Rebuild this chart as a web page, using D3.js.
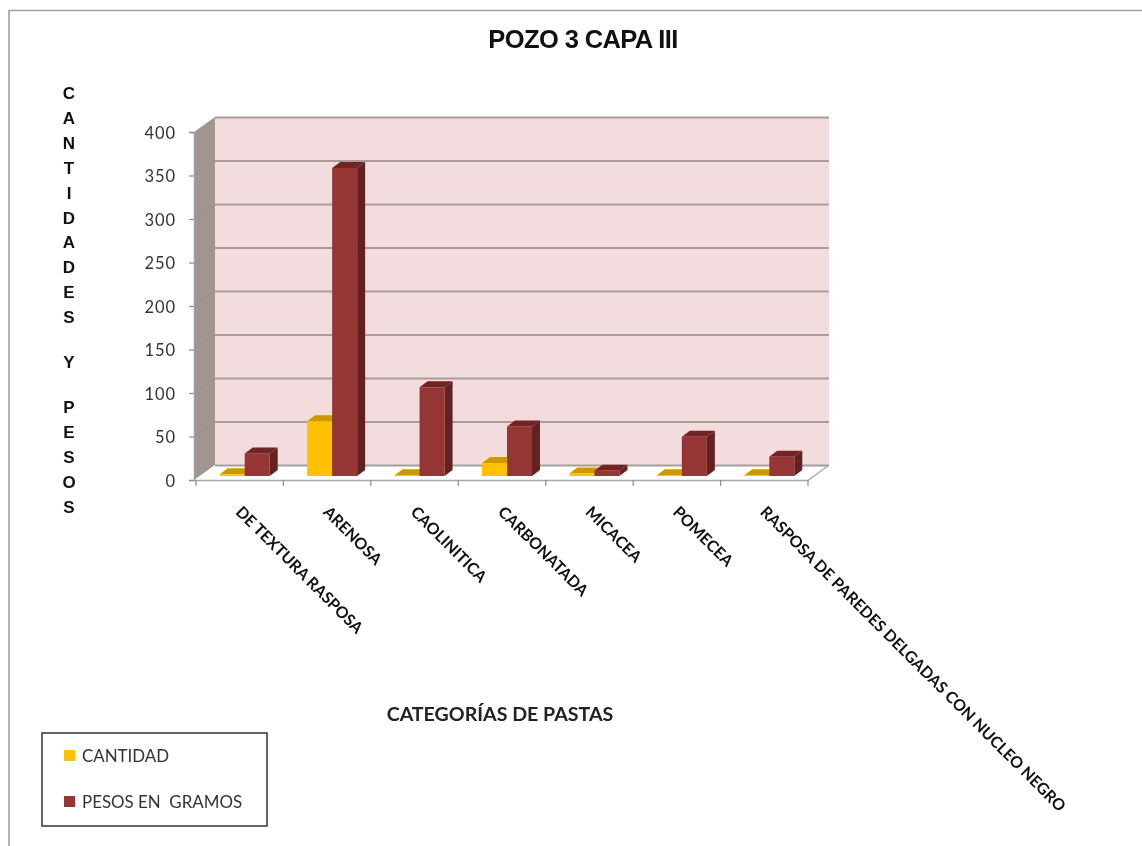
<!DOCTYPE html>
<html><head><meta charset="utf-8">
<script src="https://cdnjs.cloudflare.com/ajax/libs/d3/7.8.5/d3.min.js"></script>
<style>
html,body{margin:0;padding:0;background:#fff;overflow:hidden}
svg{display:block;filter:blur(0.45px)}
</style></head><body>
<svg id="c" width="1142" height="846"></svg>
<script>
const categories=["DE TEXTURA RASPOSA","ARENOSA","CAOLINITICA","CARBONATADA","MICACEA","POMECEA","RASPOSA DE PAREDES DELGADAS CON NUCLEO NEGRO"];
const cantidad=[2,63,1,15,3,1,1];
const pesos=[26,354,102,57,6,45,22];
const seriesNames=["CANTIDAD","PESOS EN  GRAMOS"];
const yTicks=[0,50,100,150,200,250,300,350,400];
const yTitle="CANTIDADES Y PESOS";
const chartTitle="POZO 3 CAPA III";
const xTitle="CATEGORÍAS DE PASTAS";

const svg=d3.select("#c");
const sans="Lato, 'Open Sans', sans-serif";
// chart frame
svg.append("path").attr("d","M9,846V10.5H1142").attr("fill","none").attr("stroke","#a0a0a0").attr("stroke-width",1.6);

const x=d3.scaleBand().domain(categories).range([196,808]);
const y=d3.scaleLinear().domain([0,400]).range([480,132]);
const wallDx=21, wallDy=-15;
const yLeft=194;

// left wall
svg.append("polygon").attr("points",[[yLeft,y(400)],[yLeft+wallDx,y(400)+wallDy],[yLeft+wallDx,y(0)+wallDy],[yLeft,y(0)]].join(" ")).attr("fill","#a2958f");
// back wall
svg.append("rect").attr("x",yLeft+wallDx).attr("y",y(400)+wallDy).attr("width",829-yLeft-wallDx).attr("height",y(0)-y(400)).attr("fill","#f3dcdd");
// floor
svg.append("polygon").attr("points",[[x.range()[0],y(0)],[x.range()[1],y(0)],[829,y(0)+wallDy],[yLeft+wallDx,y(0)+wallDy]].join(" ")).attr("fill","#fff");
// gridlines
svg.append("g").selectAll("line").data(yTicks).join("line")
  .attr("x1",yLeft+wallDx).attr("x2",829).attr("y1",d=>y(d)+wallDy+0.5).attr("y2",d=>y(d)+wallDy+0.5)
  .attr("stroke","#a89d9d").attr("stroke-width",2);
svg.append("g").selectAll("line").data(yTicks.slice(1,-1)).join("line")
  .attr("x1",yLeft).attr("x2",yLeft+wallDx).attr("y1",d=>y(d)).attr("y2",d=>y(d)+wallDy)
  .attr("stroke","#9c8f8a").attr("stroke-width",1);
// floor edges
svg.append("path").attr("d",`M${x.range()[1]},${y(0)+.5}L829,${y(0)+wallDy}`).attr("stroke","#a8a8a8").attr("stroke-width",1.5).attr("fill","none");

// y axis
const ga=svg.append("g").attr("transform",`translate(${yLeft},0)`).call(d3.axisLeft(y).tickValues(yTicks).tickSize(5).tickPadding(13));
ga.select(".domain").attr("stroke","#a0a0a0").attr("stroke-width",1.5);
ga.selectAll("line").attr("stroke","#8c8c8c").attr("stroke-width",1.2);
ga.selectAll("text").attr("font-family",sans).attr("font-size",16.5).attr("fill","#333").attr("letter-spacing",0.9).attr("dy","0.38em");

// x axis with ticks at the band edges
const edges=categories.map(c=>x(c)).concat(x.range()[1]);
const xLine=svg.append("g");
xLine.append("line").attr("x1",yLeft).attr("x2",x.range()[1]).attr("y1",y(0)+.5).attr("y2",y(0)+.5).attr("stroke","#a8a8a8").attr("stroke-width",1.6);
xLine.selectAll(".t").data(edges).join("line").attr("class","t").attr("x1",d=>d).attr("x2",d=>d).attr("y1",y(0)).attr("y2",y(0)+6).attr("stroke","#8c8c8c").attr("stroke-width",1.2);

// 3D bars
const barW=25, dX=8, dY=-6, base=4, shift=5;
const h=v=>y(0)-y(v);
const seriesDefs=[
 {vals:cantidad,off:-barW,front:"#ffc000",top:"#c99a06",side:"#b58a00"},
 {vals:pesos,off:0,front:"#963634",top:"#6e2523",side:"#632220"}
];
const barsG=svg.append("g");
categories.forEach((c,i)=>{
  seriesDefs.forEach(s=>{
    const v=s.vals[i];
    const xl=x(c)+x.bandwidth()/2+shift+s.off, xr=xl+barW, yb=y(0)-base, yt=yb-h(v);
    const g=barsG.append("g");
    g.append("polygon").attr("points",[[xr,yb],[xr+dX,yb+dY],[xr+dX,yt+dY],[xr,yt]].join(" ")).attr("fill",s.side);
    g.append("polygon").attr("points",[[xl,yt],[xr,yt],[xr+dX,yt+dY],[xl+dX,yt+dY]].join(" ")).attr("fill",s.top);
    g.append("rect").attr("x",xl).attr("y",yt).attr("width",barW).attr("height",h(v)).attr("fill",s.front);
  });
});

// category labels
svg.append("g").selectAll("text").data(categories).join("text")
  .attr("transform",d=>`translate(${x(d)+x.bandwidth()/2-1},509) rotate(45)`)
  .attr("font-family",sans).attr("font-weight",700).attr("font-size",15.9).attr("fill","#111")
  .attr("dy","0.35em").text(d=>d);

// title
svg.append("text").attr("x",583).attr("y",48).attr("text-anchor","middle")
  .attr("font-family","'Liberation Sans',Arial,sans-serif").attr("font-weight",700).attr("font-size",25.5).attr("letter-spacing",-0.6).attr("fill","#111").text(chartTitle);

// vertical y title
let yp=99;
const yT=svg.append("g").attr("font-family","'Liberation Sans',Arial,sans-serif").attr("font-weight",700).attr("font-size",17).attr("fill","#111").attr("text-anchor","middle");
Array.from(yTitle).forEach(ch=>{
  if(ch===" "){yp+=20;return;}
  yT.append("text").attr("x",69).attr("y",yp).text(ch);
  yp+=24.9;
});

// x title
svg.append("text").attr("x",500).attr("y",721).attr("text-anchor","middle")
  .attr("font-family",sans).attr("font-weight",700).attr("font-size",19.6).attr("fill","#222").text(xTitle);

// legend
svg.append("rect").attr("x",42).attr("y",733).attr("width",225).attr("height",93).attr("fill","#fff").attr("stroke","#333").attr("stroke-width",1.5);
const lg=svg.append("g").selectAll("g").data(seriesNames).join("g").attr("transform",(d,i)=>`translate(64,${[750,796][i]})`);
lg.append("rect").attr("width",11).attr("height",11).attr("fill",(d,i)=>seriesDefs[i].front);
lg.append("text").attr("x",18).attr("y",12).attr("font-family",sans).attr("font-size",16.9).attr("fill","#333").style("white-space","pre").text(d=>d);
</script>
</body></html>
